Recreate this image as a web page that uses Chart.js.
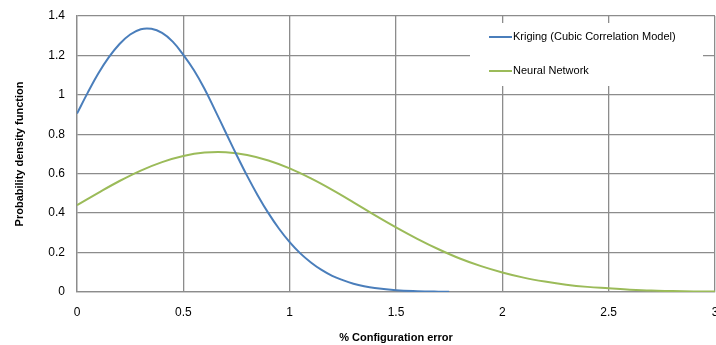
<!DOCTYPE html>
<html>
<head>
<meta charset="utf-8">
<script src="https://cdn.jsdelivr.net/npm/chart.js@4.4.1/dist/chart.umd.min.js"></script>
<style>
  html, body { margin: 0; padding: 0; background: #fff; overflow: hidden; }
  #wrap { width: 716px; height: 345px; position: relative; }
</style>
</head>
<body>
<div id="wrap"><canvas id="pdfChart"></canvas></div>
<script>
const xTicks = [0, 0.5, 1, 1.5, 2, 2.5, 3];
const yTicks = [0, 0.2, 0.4, 0.6, 0.8, 1, 1.2, 1.4];

const seriesNames = ['Kriging (Cubic Correlation Model)', 'Neural Network'];
const seriesColors = ['#4a7ebb', '#9bbb59'];

const krigingX = [0, 0.05, 0.1, 0.15, 0.2, 0.25, 0.3, 0.35, 0.4, 0.45, 0.5, 0.55, 0.6, 0.65, 0.7, 0.75, 0.8, 0.85, 0.9, 0.95, 1.0, 1.05, 1.1, 1.15, 1.2, 1.25, 1.3, 1.35, 1.4, 1.5, 1.6, 1.7, 1.75];
const krigingY = [0.905, 1.010, 1.108, 1.191, 1.258, 1.306, 1.333, 1.335, 1.314, 1.270, 1.203, 1.125, 1.030, 0.920, 0.808, 0.696, 0.589, 0.490, 0.400, 0.321, 0.253, 0.196, 0.150, 0.112, 0.082, 0.060, 0.042, 0.029, 0.020, 0.009, 0.004, 0.0015, 0.001];

const neuralX = [0, 0.1, 0.2, 0.3, 0.4, 0.5, 0.6, 0.7, 0.8, 0.9, 1.0, 1.1, 1.2, 1.3, 1.4, 1.5, 1.6, 1.7, 1.8, 1.9, 2.0, 2.1, 2.2, 2.3, 2.4, 2.5, 2.6, 2.7, 2.8, 2.9, 3.0];
const neuralY = [0.44, 0.503, 0.563, 0.616, 0.659, 0.690, 0.707, 0.709, 0.695, 0.667, 0.627, 0.576, 0.518, 0.455, 0.390, 0.328, 0.270, 0.217, 0.170, 0.131, 0.099, 0.073, 0.053, 0.037, 0.026, 0.019, 0.012, 0.007, 0.005, 0.003, 0.002];

const FONT = 'Liberation Sans';
const GRID = '#8c8c8c';

function toPoints(xs, ys) {
  return xs.map((x, i) => ({ x: x, y: ys[i] }));
}

function fmt(v) {
  return String(Math.round(v * 10) / 10);
}

// legend drawn as a white box inside the plot, top right
const boxLegend = {
  id: 'boxLegend',
  afterDatasetsDraw(chart) {
    const ctx = chart.ctx;
    const left = 470, top = 23, w = 233, h = 63;
    ctx.save();
    ctx.fillStyle = '#ffffff';
    ctx.fillRect(left, top, w, h);
    ctx.font = '11px "' + FONT + '"';
    ctx.textBaseline = 'middle';
    chart.data.datasets.forEach((ds, i) => {
      const y = 37 + i * 34;
      ctx.strokeStyle = ds.borderColor;
      ctx.lineWidth = 2;
      ctx.beginPath();
      ctx.moveTo(489, y);
      ctx.lineTo(512, y);
      ctx.stroke();
      ctx.fillStyle = '#000';
      ctx.fillText(ds.label, 513, y);
    });
    ctx.restore();
  }
};

new Chart(document.getElementById('pdfChart').getContext('2d'), {
  type: 'line',
  data: {
    datasets: [
      {
        label: seriesNames[0],
        data: toPoints(krigingX, krigingY),
        borderColor: seriesColors[0],
        borderWidth: 2,
        pointRadius: 0,
        tension: 0.4,
        fill: false
      },
      {
        label: seriesNames[1],
        data: toPoints(neuralX, neuralY),
        borderColor: seriesColors[1],
        borderWidth: 2,
        pointRadius: 0,
        tension: 0.4,
        fill: false
      }
    ]
  },
  options: {
    responsive: true,
    maintainAspectRatio: false,
    animation: false,
    layout: {
      autoPadding: false,
      padding: { top: 16, right: 1, left: 0, bottom: 0 }
    },
    plugins: {
      legend: { display: false },
      tooltip: { enabled: false }
    },
    scales: {
      x: {
        type: 'linear',
        min: 0,
        max: 3,
        afterBuildTicks: (scale) => { scale.ticks = xTicks.map(v => ({ value: v })); },
        afterFit: (scale) => { scale.height = 53; scale.paddingLeft = 0; scale.paddingRight = 0; },
        grid: { color: GRID, lineWidth: 1.3, drawTicks: false },
        border: { color: GRID, width: 1.3 },
        ticks: {
          padding: 13,
          color: '#000',
          font: { family: FONT, size: 12 },
          maxRotation: 0,
          callback: (v) => fmt(v)
        },
        title: {
          display: true,
          text: '% Configuration error',
          color: '#000',
          font: { family: FONT, size: 11, weight: 'bold' },
          padding: { top: 5, bottom: 0 }
        }
      },
      y: {
        min: 0,
        max: 1.4,
        afterBuildTicks: (scale) => { scale.ticks = yTicks.map(v => ({ value: v })); },
        afterFit: (scale) => { scale.width = 77; scale.paddingTop = 0; scale.paddingBottom = 0; },
        grid: { color: GRID, lineWidth: 1.3, drawTicks: false },
        border: { color: GRID, width: 1.3 },
        ticks: {
          padding: 12,
          color: '#000',
          font: { family: FONT, size: 12 },
          callback: (v) => fmt(v)
        },
        title: {
          display: true,
          text: 'Probability density function',
          color: '#000',
          font: { family: FONT, size: 11, weight: 'bold' },
          padding: { top: 13, bottom: 0 }
        }
      }
    }
  },
  plugins: [boxLegend]
});
</script>
</body>
</html>
